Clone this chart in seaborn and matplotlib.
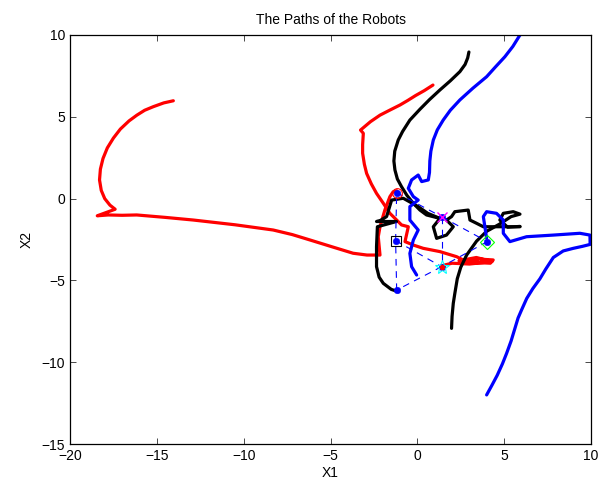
import numpy as np
import pandas as pd
import matplotlib
matplotlib.use("Agg")
import matplotlib.pyplot as plt
import seaborn as sns

# robot paths
red1_x = [-14.05, -14.6, -15.2, -15.7, -16.15, -16.6, -17.1, -17.5, -17.85, -18.1, -18.25, -18.3,
          -18.2, -18.0, -17.7, -17.4, -18.43, -17.8, -17.0, -16.16, -14.5, -12.9, -10.5, -8.3,
          -7.2, -6.18, -4.9, -3.7, -2.9, -2.35, -2.15, -2.25, -2.15, -1.87, -1.58, -1.39, -1.19]
red1_y = [5.98, 5.85, 5.62, 5.4, 5.1, 4.75, 4.25, 3.7, 3.1, 2.45, 1.8, 1.14,
          0.5, 0.0, -0.4, -0.65, -1.05, -1.0, -1.02, -1.0, -1.15, -1.31, -1.6, -1.92,
          -2.2, -2.53, -2.95, -3.34, -3.45, -3.45, -3.45, -2.33, -1.72, -0.70, 0.12, 0.42, 0.48]

red2_x = [0.90, 0.4, -0.1, -0.55, -1.0, -1.6, -2.15, -2.7, -3.27, -3.11, -3.15, -3.15, -3.05,
          -2.92, -2.65, -2.35, -1.95, -1.58, -1.2, -0.91, -0.52, -0.71, -0.2, 0.34, 1.30, 2.26,
          2.84, 3.6, 4.37, 4.2, 3.2, 2.4, 3.4, 4.3, 3.0, 2.0, 1.4]
red2_y = [6.94, 6.6, 6.3, 6.0, 5.72, 5.4, 5.1, 4.7, 4.19, 3.99, 3.3, 2.77, 2.1,
          1.54, 0.9, 0.32, -0.3, -0.90, -1.3, -1.61, -1.72, -2.63, -2.85, -3.04, -3.24, -3.55,
          -3.86, -3.7, -3.75, -3.95, -3.9, -3.8, -3.6, -3.85, -4.0, -3.95, -4.1]

black1_x = [2.97, 2.9, 2.75, 2.45, 1.9, 1.30, 0.7, 0.15, -0.43, -0.85, -1.10, -1.3, -1.35,
            -1.29, -1.15, -0.91, -0.6, -0.23, 0.15, 0.53, 1.30, 0.92, 1.11, 1.68, 2.07, 1.68,
            1.97, 2.16, 2.93, 3.03, 3.41, 3.80, 4.56, 5.91]
black1_y = [8.96, 8.6, 8.2, 7.76, 7.2, 6.64, 6.05, 5.46, 4.80, 4.1, 3.58, 2.9, 2.3,
            1.75, 1.2, 0.73, 0.2, -0.29, -0.7, -1.00, -1.21, -1.72, -2.43, -2.23, -1.72, -1.31,
            -1.10, -0.80, -0.70, -1.31, -1.51, -1.72, -1.72, -1.72]

black2_x = [1.97, 2.0, 2.07, 2.16, 2.3, 2.5, 2.84, 3.41, 3.99, 4.75, 5.4, 5.91, 5.52, 4.95,
            4.75, 5.2, 5.91]
black2_y = [-7.93, -7.2, -6.4, -5.79, -4.9, -4.2, -3.45, -2.6, -2.0, -1.55, -1.1, -0.95,
            -0.80, -0.90, -1.31, -1.75, -1.7]

black3_x = [1.30, 0.6, 0.05, -0.81, -1.48, -1.77, -2.15, -2.35, -1.2, -2.3, -2.35, -2.35, -2.2,
            -1.96, -1.5, -1.10]
black3_y = [-1.21, -0.9, -0.49, 0.02, -0.09, -1.10, -1.35, -1.4, -1.4, -1.72, -2.94, -4.16,
            -4.8, -5.18, -5.55, -5.69]

blue1_x = [5.91, 5.5, 5.04, 4.5, 3.99, 3.2, 2.45, 1.9, 1.49, 1.15, 0.92, 0.78, 0.72, 0.7,
           0.63, 0.25, 0.05, -0.33, -0.52, -0.23, 0.05, -0.43, -0.43, 0.05, -0.23, -0.43,
           -0.33, -0.04]
blue1_y = [10.0, 9.3, 8.67, 8.05, 7.45, 6.75, 6.03, 5.4, 4.80, 4.2, 3.58, 2.9, 2.3, 1.6,
           1.14, 1.04, 1.44, 1.14, 0.63, 0.12, -0.09, -0.49, -1.31, -1.92, -2.53, -3.35,
           -4.16, -4.67]

blue2_x = [3.99, 4.3, 4.6, 4.9, 5.14, 5.4, 5.6, 5.8, 6.0, 6.3, 6.65, 7.06, 7.4, 7.83, 8.4,
           8.98, 9.5, 9.95, 9.94, 9.36, 7.83, 6.29, 5.33, 4.95, 4.95, 4.56, 3.99, 3.80, 3.89,
           3.99]
blue2_y = [-12.0, -11.4, -10.8, -10.1, -9.46, -8.7, -8.0, -7.3, -6.81, -6.1, -5.5, -4.9,
           -4.3, -3.6, -3.2, -3.04, -2.92, -2.8, -2.23, -2.12, -2.23, -2.33, -2.63, -2.12,
           -1.31, -0.90, -0.80, -1.10, -1.72, -2.43]

# formation nodes: circle, X, diamond, star, bottom, square
node_x = [-1.19, 1.40, 4.03, 1.40, -1.19, -1.25]
node_y = [0.36, -1.11, -2.63, -4.16, -5.59, -2.57]
edges = [(0, 1), (1, 2), (2, 3), (3, 4), (4, 5), (5, 0), (1, 3), (5, 3)]

plt.rcParams['font.family'] = ['Liberation Sans', 'DejaVu Sans']
fig = plt.figure(figsize=(6.03, 4.83), dpi=100)
ax = fig.add_axes([70 / 603, 39 / 483, 521 / 603, 409 / 483])

paths = [(red1_x, red1_y, 'red'), (red2_x, red2_y, 'red'),
         (black1_x, black1_y, 'black'), (black2_x, black2_y, 'black'), (black3_x, black3_y, 'black'),
         (blue1_x, blue1_y, 'blue'), (blue2_x, blue2_y, 'blue')]
for px, py, c in paths:
    df = pd.DataFrame({'x': px, 'y': py})
    sns.lineplot(data=df, x='x', y='y', sort=False, estimator=None, color=c, lw=2.3,
                 solid_joinstyle='round', solid_capstyle='round', ax=ax)

# dashed formation links
for a, b in edges:
    ax.plot([node_x[a], node_x[b]], [node_y[a], node_y[b]], color='blue', lw=0.8,
            dashes=(6, 5), zorder=3)

sns.scatterplot(x=node_x, y=node_y, color='blue', s=22, edgecolor='blue', ax=ax, zorder=4)
ax.plot(node_x[0], node_y[0], 'o', mfc='none', mec='red', ms=7, mew=0.8, zorder=5)
ax.plot(node_x[1], node_y[1], 'x', color='magenta', ms=7, mew=1.0, zorder=5)
ax.plot(node_x[2], node_y[2], 'D', mfc='none', mec='lime', ms=7, mew=0.8, zorder=5)
ax.plot(node_x[3], node_y[3], '*', mfc='none', mec='cyan', ms=10, mew=0.8, zorder=5)
ax.plot(node_x[3], node_y[3], 'o', color='red', ms=3, zorder=6)
ax.plot(node_x[5], node_y[5], 's', mfc='none', mec='black', ms=7, mew=0.8, zorder=5)

ax.set_xlim(-20, 10)
ax.set_ylim(-15, 10)
ax.set_xticks(np.arange(-20, 11, 5))
ax.set_yticks(np.arange(-15, 11, 5))
ax.tick_params(direction='in', top=True, right=True, labelsize=10, length=4, width=0.5)
for s in ax.spines.values():
    s.set_linewidth(0.9)
ax.set_xticklabels(['\u221220', '\u221215', '\u221210', '\u22125', '0', '5', '10'])
ax.set_yticklabels(['\u221215', '\u221210', '\u22125', '0', '5', '10'])
ax.set_xlabel('X1', fontsize=10, labelpad=2)
ax.set_ylabel('X2', fontsize=10, labelpad=6)
ax.set_title('The Paths of the Robots', fontsize=10, pad=8)

fig.savefig('out.png', dpi=100)
